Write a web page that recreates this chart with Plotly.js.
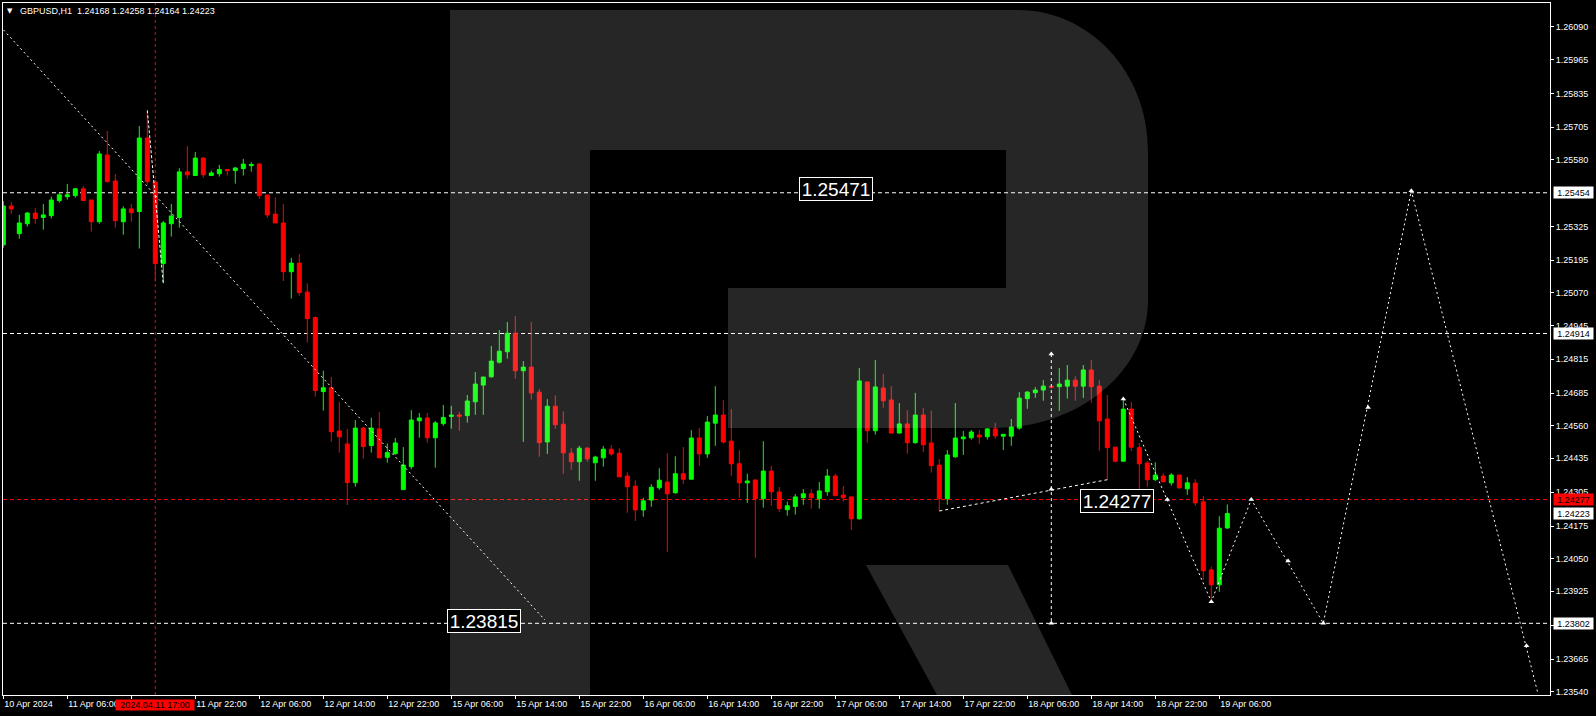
<!DOCTYPE html>
<html><head><meta charset="utf-8">
<script src="https://cdn.plot.ly/plotly-3.0.1.min.js"></script>
<style>html,body{margin:0;padding:0;background:#000;overflow:hidden}#chart{width:1596px;height:716px}</style>
</head><body><div id="chart"></div>
<script>
// ---- data (GBPUSD H1) ----
const openP = [1.25254,1.25403,1.25297,1.25335,1.25376,1.25359,1.25366,1.25424,1.25439,1.25443,
1.25469,1.25426,1.25343,1.25599,1.25499,1.25343,1.25392,1.25382,1.25664,1.25495,
1.25182,1.25335,1.25359,1.25534,1.25520,1.25587,1.25520,1.25527,1.25543,1.25539,
1.25547,1.25558,1.25564,1.25445,1.25372,1.25338,1.25151,1.25184,1.25073,1.24975,
1.24691,1.24706,1.24540,1.24490,1.24342,1.24551,1.24484,1.24548,1.24439,1.24453,
1.24315,1.24403,1.24579,1.24590,1.24514,1.24568,1.24596,1.24601,1.24599,1.24652,
1.24716,1.24748,1.24804,1.24844,1.24915,1.24771,1.24785,1.24689,1.24498,1.24635,
1.24566,1.24455,1.24422,1.24474,1.24418,1.24437,1.24470,1.24455,1.24367,1.24328,
1.24237,1.24275,1.24322,1.24344,1.24303,1.24376,1.24355,1.24513,1.24452,1.24570,
1.24601,1.24501,1.24414,1.24341,1.24352,1.24280,1.24386,1.24306,1.24238,1.24250,
1.24284,1.24299,1.24280,1.24307,1.24367,1.24294,1.24287,1.24203,1.24728,1.24541,
1.24705,1.24659,1.24532,1.24567,1.24495,1.24601,1.24494,1.24409,1.24280,1.24441,
1.24510,1.24514,1.24524,1.24518,1.24548,1.24520,1.24520,1.24551,1.24664,1.24687,
1.24697,1.24711,1.24710,1.24712,1.24735,1.24712,1.24774,1.24712,1.24586,1.24478,
1.24424,1.24624,1.24476,1.24417,1.24353,1.24367,1.24341,1.24371,1.24318,1.24340,
1.24268,1.24007,1.23950,1.24168];
const highP = [1.25422,1.25419,1.25369,1.25380,1.25396,1.25411,1.25439,1.25454,1.25488,1.25472,
1.25479,1.25426,1.25614,1.25691,1.25526,1.25402,1.25411,1.25710,1.25765,1.25503,
1.25346,1.25411,1.25548,1.25633,1.25610,1.25591,1.25538,1.25561,1.25545,1.25553,
1.25584,1.25571,1.25569,1.25445,1.25436,1.25411,1.25204,1.25219,1.25106,1.24979,
1.24771,1.24747,1.24652,1.24548,1.24582,1.24556,1.24591,1.24613,1.24492,1.24513,
1.24478,1.24620,1.24609,1.24609,1.24578,1.24640,1.24636,1.24613,1.24678,1.24766,
1.24747,1.24866,1.24927,1.24958,1.24981,1.24808,1.24958,1.24701,1.24662,1.24677,
1.24616,1.24474,1.24483,1.24478,1.24445,1.24482,1.24486,1.24474,1.24382,1.24351,
1.24284,1.24336,1.24397,1.24455,1.24443,1.24478,1.24543,1.24551,1.24597,1.24712,
1.24658,1.24624,1.24466,1.24376,1.24354,1.24501,1.24406,1.24325,1.24269,1.24298,
1.24317,1.24317,1.24344,1.24394,1.24375,1.24329,1.24287,1.24782,1.24728,1.24812,
1.24759,1.24712,1.24647,1.24620,1.24686,1.24628,1.24617,1.24432,1.24467,1.24647,
1.24540,1.24544,1.24544,1.24551,1.24571,1.24529,1.24586,1.24689,1.24693,1.24708,
1.24735,1.24716,1.24781,1.24793,1.24750,1.24793,1.24812,1.24735,1.24678,1.24478,
1.24656,1.24651,1.24493,1.24424,1.24420,1.24378,1.24378,1.24371,1.24363,1.24355,
1.24291,1.24019,1.24213,1.24258];
const lowP = [1.25243,1.25373,1.25278,1.25324,1.25335,1.25312,1.25355,1.25416,1.25428,1.25435,
1.25424,1.25305,1.25335,1.25493,1.25320,1.25293,1.25343,1.25240,1.25484,1.25113,
1.25107,1.25286,1.25320,1.25508,1.25520,1.25512,1.25520,1.25516,1.25520,1.25489,
1.25520,1.25535,1.25431,1.25358,1.25338,1.25115,1.25048,1.25059,1.24879,1.24672,
1.24618,1.24499,1.24457,1.24256,1.24326,1.24434,1.24457,1.24437,1.24418,1.24449,
1.24315,1.24393,1.24514,1.24495,1.24399,1.24560,1.24549,1.24541,1.24572,1.24602,
1.24602,1.24744,1.24799,1.24817,1.24740,1.24498,1.24660,1.24441,1.24452,1.24548,
1.24376,1.24391,1.24349,1.24422,1.24349,1.24403,1.24445,1.24364,1.24226,1.24195,
1.24211,1.24249,1.24314,1.24076,1.24299,1.24337,1.24355,1.24406,1.24437,1.24483,
1.24491,1.24368,1.24284,1.24264,1.24053,1.24246,1.24253,1.24230,1.24215,1.24219,
1.24257,1.24242,1.24242,1.24292,1.24292,1.24269,1.24160,1.24200,1.24495,1.24526,
1.24629,1.24530,1.24530,1.24453,1.24491,1.24459,1.24380,1.24233,1.24257,1.24437,
1.24448,1.24507,1.24491,1.24507,1.24510,1.24467,1.24483,1.24545,1.24625,1.24667,
1.24656,1.24703,1.24617,1.24664,1.24656,1.24667,1.24648,1.24464,1.24353,1.24420,
1.24424,1.24463,1.24318,1.24326,1.24349,1.24345,1.24330,1.24318,1.24295,1.24253,
1.23969,1.23891,1.23923,1.24164];
const closeP = [1.25403,1.25392,1.25338,1.25376,1.25355,1.25369,1.25426,1.25446,1.25446,1.25469,
1.25424,1.25343,1.25603,1.25497,1.25347,1.25392,1.25378,1.25664,1.25497,1.25182,
1.25338,1.25365,1.25534,1.25523,1.25587,1.25523,1.25530,1.25543,1.25539,1.25549,
1.25564,1.25562,1.25443,1.25369,1.25338,1.25151,1.25184,1.25071,1.24971,1.24695,
1.24706,1.24537,1.24518,1.24342,1.24551,1.24480,1.24551,1.24437,1.24457,1.24494,
1.24409,1.24582,1.24590,1.24514,1.24571,1.24592,1.24601,1.24597,1.24655,1.24720,
1.24747,1.24808,1.24846,1.24915,1.24771,1.24785,1.24686,1.24495,1.24635,1.24564,
1.24456,1.24422,1.24474,1.24433,1.24440,1.24470,1.24452,1.24364,1.24326,1.24237,
1.24272,1.24324,1.24351,1.24299,1.24376,1.24355,1.24513,1.24452,1.24574,1.24601,
1.24498,1.24414,1.24341,1.24348,1.24280,1.24386,1.24307,1.24242,1.24253,1.24287,
1.24299,1.24284,1.24310,1.24367,1.24292,1.24284,1.24203,1.24732,1.24541,1.24709,
1.24656,1.24532,1.24567,1.24495,1.24601,1.24487,1.24407,1.24280,1.24448,1.24513,
1.24517,1.24536,1.24517,1.24548,1.24521,1.24527,1.24555,1.24666,1.24689,1.24697,
1.24712,1.24708,1.24720,1.24735,1.24712,1.24774,1.24710,1.24579,1.24476,1.24424,
1.24624,1.24478,1.24414,1.24353,1.24371,1.24345,1.24371,1.24322,1.24341,1.24264,
1.24004,1.23950,1.24167,1.24223];

const tickBars = [0,8,16,24,32,40,48,56,64,72,80,88,96,104,112,120,128,136,144,152];
const tickLabels = ['10 Apr 2024','11 Apr 06:00','','11 Apr 22:00','12 Apr 06:00','12 Apr 14:00','12 Apr 22:00',
 '15 Apr 06:00','15 Apr 14:00','15 Apr 22:00','16 Apr 06:00','16 Apr 14:00','16 Apr 22:00',
 '17 Apr 06:00','17 Apr 14:00','17 Apr 22:00','18 Apr 06:00','18 Apr 14:00','18 Apr 22:00','19 Apr 06:00'];
const priceTicks = [1.26090,1.25965,1.25835,1.25705,1.25580,1.25325,1.25195,1.25070,1.24945,1.24815,
 1.24685,1.24560,1.24435,1.24305,1.24175,1.24050,1.23925,1.23795,1.23665,1.23540];

const levelPrices = [1.25454, 1.24914, 1.23802];
const bidPrice = 1.24277;
const lastPrice = 1.24223;
const markerBar = 19;
const markerLabel = '2024.04.11 17:00';

const trendX = [-0.4, 67.7];
const trendY = [1.26093, 1.23815];
const spikeX = [18, 20];
const spikeY = [1.25770, 1.25105];
const supportX = [117, 138];
const supportY = [1.24233, 1.24353];
const vertX = [131, 131, 131];
const vertY = [1.24835, 1.24316, 1.23802];
const forecastX = [140, 145.5, 151, 156, 165, 176, 191.8];
const forecastY = [1.24663, 1.24277, 1.23885, 1.24277, 1.23802, 1.25462, 1.23536];
const fMarkX = [140, 145.5, 151, 156, 160.6, 165, 170.6, 176, 190.4];
const fMarkY = [1.24663, 1.24277, 1.23885, 1.24277, 1.24041, 1.23802, 1.24630, 1.25462, 1.23716];

const boxLabels = ['1.25471', '1.24277', '1.23815'];
const boxX = [104.1, 139.2, 60.1];
const boxY = [1.25468, 1.24273, 1.23810];

// ---- layout helpers (pixel -> paper) ----
const L = 3, R = 46, T = 3, B = 21, W = 1596, H = 716;
const PW = W - L - R, PH = H - T - B;
const px = x => (x - L) / PW;
const py = y => (H - B - y) / PH;
function path(pts) {
  return pts.map(s => {
    if (typeof s === 'string') return s;
    return px(s[0]).toFixed(5) + ',' + py(s[1]).toFixed(5);
  }).join(' ');
}
const logoMain = 'M ' + path([[450,10]]) + ' L ' + path([[1018,10]]) +
  ' C ' + path([[1089.8,10],[1148,72.7],[1148,150]]) +
  ' L ' + path([[1148,300]]) +
  ' C ' + path([[1148,370.7],[1079.5,428],[995,428]]) +
  ' L ' + path([[728,428]]) + ' L ' + path([[728,288]]) + ' L ' + path([[1006,288]]) +
  ' L ' + path([[1006,150]]) + ' L ' + path([[590,150]]) + ' L ' + path([[590,695]]) +
  ' L ' + path([[450,695]]) + ' Z';
const logoLeg = 'M ' + path([[866,565]]) + ' L ' + path([[1008,565]]) + ' L ' + path([[1072,695]]) +
  ' L ' + path([[937,695]]) + ' Z';

const FONT = 'Liberation Sans, Arial, sans-serif';
const bars = openP.map((_, i) => i);
const n = openP.length;

const traces = [
  {type:'candlestick', x: bars, open: openP, high: highP, low: lowP, close: closeP,
   increasing:{line:{color:'#00ff00', width:1}, fillcolor:'#00ff00'},
   decreasing:{line:{color:'#ff0000', width:1}, fillcolor:'#ff0000'},
   whiskerwidth:0, hoverinfo:'skip', showlegend:false},
  {type:'scatter', mode:'lines', x: trendX, y: trendY, line:{color:'#ffffff', width:1, dash:'2px,3px'}, showlegend:false, hoverinfo:'skip'},
  {type:'scatter', mode:'lines', x: spikeX, y: spikeY, line:{color:'#ffffff', width:1, dash:'3px,2px'}, showlegend:false, hoverinfo:'skip'},
  {type:'scatter', mode:'lines', x: supportX, y: supportY, line:{color:'#ffffff', width:1, dash:'3px,3px'}, showlegend:false, hoverinfo:'skip'},
  {type:'scatter', mode:'lines+markers', x: vertX, y: vertY, line:{color:'#ffffff', width:1, dash:'3px,3px'},
   marker:{symbol:'triangle-up', size:5, color:'#ffffff'}, showlegend:false, hoverinfo:'skip'},
  {type:'scatter', mode:'lines', x: forecastX, y: forecastY, line:{color:'#ffffff', width:1, dash:'2px,3px'}, showlegend:false, hoverinfo:'skip'},
  {type:'scatter', mode:'markers', x: fMarkX, y: fMarkY, marker:{symbol:'triangle-up', size:5, color:'#ffffff'}, showlegend:false, hoverinfo:'skip'}
];

const shapes = [];
levelPrices.forEach(p => shapes.push({type:'line', xref:'paper', x0:0, x1:1, yref:'y', y0:p, y1:p,
  line:{color:'#ffffff', width:1, dash:'4px,3px'}, layer:'below'}));
shapes.push({type:'line', xref:'paper', x0:0, x1:1, yref:'y', y0:bidPrice, y1:bidPrice,
  line:{color:'#ff0000', width:1, dash:'4px,3px'}, layer:'below'});
shapes.push({type:'line', xref:'x', x0:markerBar, x1:markerBar, yref:'paper', y0:0, y1:1,
  line:{color:'#ff0000', width:1, dash:'3px,3px'}, layer:'below'});
shapes.push({type:'path', xref:'paper', yref:'paper', path: logoMain, fillcolor:'rgba(255,255,255,0.149)', line:{width:0}, layer:'above'});
shapes.push({type:'path', xref:'paper', yref:'paper', path: logoLeg, fillcolor:'rgba(255,255,255,0.149)', line:{width:0}, layer:'above'});

const annotations = [];
// header
annotations.push({xref:'paper', yref:'paper', x: px(5), y: py(10.5), xanchor:'left', yanchor:'middle', showarrow:false,
  text:'▼', font:{family:'DejaVu Sans', size:7, color:'#ffffff'}});
annotations.push({xref:'paper', yref:'paper', x: px(17.5), y: py(10.7), xanchor:'left', yanchor:'middle', showarrow:false,
  text:'GBPUSD,H1\u00a0\u00a0' + [openP[n-1], highP[n-1], lowP[n-1], closeP[n-1]].map(v => v.toFixed(5)).join(' '),
  font:{family:FONT, size:9, color:'#ffffff'}});
// right axis price boxes
const priceBoxes = levelPrices.map(p => ({p, bg:'#ffffff'})).concat([{p:bidPrice, bg:'#ff0000'}, {p:lastPrice, bg:'#ffffff'}]);
priceBoxes.forEach(b => annotations.push({xref:'paper', yref:'y', x: px(1552.5), y: b.p, xanchor:'left', yanchor:'middle',
  showarrow:false, text: b.p.toFixed(5), bgcolor:b.bg, borderpad:1, width:37, height:9, align:'center',
  font:{family:FONT, size:9, color:'#000000'}}));
// time marker box
annotations.push({xref:'x', yref:'paper', x: markerBar, y: py(705.4), xanchor:'center', yanchor:'middle', showarrow:false,
  text: markerLabel, bgcolor:'#ff0000', borderpad:1, width:76, height:8, font:{family:FONT, size:9, color:'#000000'}});
// chart labels
boxLabels.forEach((t, i) => annotations.push({xref:'x', yref:'y', x: boxX[i], y: boxY[i], xanchor:'center', yanchor:'middle',
  showarrow:false, text:t, bgcolor:'#000000', bordercolor:'#ffffff', borderwidth:1, borderpad:1, width:70, height:20,
  font:{family:FONT, size:19, color:'#ffffff'}}));

const layout = {
  width: W, height: H, margin:{l:L, r:R, t:T, b:B, pad:0},
  paper_bgcolor:'#000000', plot_bgcolor:'#000000', showlegend:false,
  boxgap:0.5, boxgroupgap:0,
  font:{family:FONT, size:9, color:'#ffffff'},
  xaxis:{type:'linear', range:[-0.0375, 193.3375], tickvals: tickBars, ticktext: tickLabels,
    ticklabelposition:'outside right', ticks:'outside', ticklen:3, tickcolor:'#ffffff',
    showline:true, linecolor:'#ffffff', linewidth:1, mirror:true, showgrid:false, zeroline:false,
    tickfont:{family:FONT, size:9, color:'#ffffff'}, rangeslider:{visible:false}, fixedrange:true},
  yaxis:{side:'right', range:[1.23527, 1.26182], tickvals: priceTicks, ticktext: priceTicks.map(v => v.toFixed(5)),
    ticks:'outside', ticklen:3, tickcolor:'#ffffff', showline:true, linecolor:'#ffffff', linewidth:1, mirror:true,
    showgrid:false, zeroline:false, tickfont:{family:FONT, size:9, color:'#ffffff'}, fixedrange:true},
  shapes, annotations
};

Plotly.newPlot('chart', traces, layout, {staticPlot:true, displayModeBar:false});
</script>
</body></html>
